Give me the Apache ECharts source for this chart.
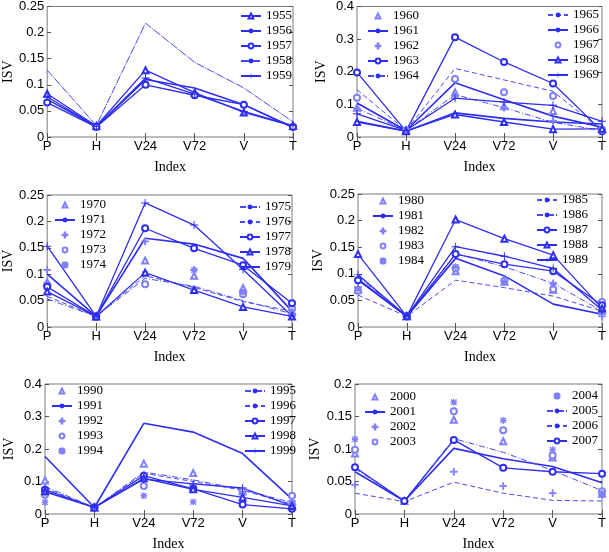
<!DOCTYPE html>
<html>
<head>
<meta charset="utf-8">
<script src="https://cdn.jsdelivr.net/npm/echarts@6/dist/echarts.min.js"></script>
<style>
html, body { margin: 0; padding: 0; background: #fff; }
#graphContainer { width: 609px; height: 552px; }
</style>
</head>
<body>
<div id="graphContainer"></div>
<script>
// x categories shared by all six panels
var categories = ['P', 'H', 'V24', 'V72', 'V', 'T'];

// panel 1: 1955-1959
var years1 = ['1955', '1956', '1957', '1958', '1959'];
var values1 = [
	[0.083, 0.021, 0.128, 0.085, 0.047, 0.021],
	[0.072, 0.020, 0.110, 0.094, 0.062, 0.018],
	[0.066, 0.019, 0.100, 0.080, 0.062, 0.019],
	[0.128, 0.022, 0.218, 0.143, 0.094, 0.029],
	[0.077, 0.020, 0.113, 0.082, 0.049, 0.022]
];
var kinds1 = ['triLine', 'solid', 'circLine', 'thin', 'plusLine'];

// panel 2: 1960-1969
var years2 = ['1960', '1961', '1962', '1963', '1964', '1965', '1966', '1967', '1968', '1969'];
var values2 = [
	[0.090, 0.020, 0.137, 0.094, 0.080, 0.025],
	[0.048, 0.018, 0.074, 0.057, 0.046, 0.040],
	[0.087, 0.020, 0.125, 0.090, 0.050, 0.022],
	[0.198, 0.018, 0.306, 0.230, 0.164, 0.018],
	[0.088, 0.020, 0.130, 0.090, 0.045, 0.020],
	[0.145, 0.020, 0.210, 0.175, 0.140, 0.020],
	[0.104, 0.020, 0.166, 0.114, 0.064, 0.030],
	[0.120, 0.020, 0.178, 0.137, 0.126, 0.022],
	[0.046, 0.018, 0.069, 0.046, 0.024, 0.025],
	[0.071, 0.020, 0.119, 0.107, 0.097, 0.048]
];
var kinds2 = ['tri', 'solid', 'plus', 'circLine', 'dashdot', 'dash', 'solid', 'circ', 'triLine', 'plusLine'];

// panel 3: 1970-1979
var years3 = ['1970', '1971', '1972', '1973', '1974', '1975', '1976', '1977', '1978', '1979'];
var values3 = [
	[0.085, 0.020, 0.126, 0.097, 0.074, 0.030],
	[0.100, 0.020, 0.168, 0.157, 0.130, 0.030],
	[0.108, 0.020, 0.162, 0.108, 0.065, 0.025],
	[0.080, 0.020, 0.081, 0.070, 0.062, 0.035],
	[0.078, 0.020, 0.100, 0.108, 0.066, 0.030],
	[0.053, 0.020, 0.092, 0.077, 0.050, 0.025],
	[0.058, 0.020, 0.097, 0.075, 0.048, 0.030],
	[0.076, 0.020, 0.187, 0.149, 0.117, 0.045],
	[0.067, 0.020, 0.103, 0.070, 0.038, 0.020],
	[0.153, 0.020, 0.235, 0.193, 0.109, 0.021]
];
var kinds3 = ['tri', 'solid', 'plus', 'circ', 'star', 'dashdot', 'dash', 'circLine', 'triLine', 'plusLine'];

// panel 4: 1980-1989
var years4 = ['1980', '1981', '1982', '1983', '1984', '1985', '1986', '1987', '1988', '1989'];
var values4 = [
	[0.070, 0.020, 0.105, 0.085, 0.070, 0.030],
	[0.090, 0.020, 0.129, 0.096, 0.043, 0.024],
	[0.075, 0.020, 0.112, 0.088, 0.082, 0.020],
	[0.068, 0.020, 0.110, 0.087, 0.071, 0.047],
	[0.072, 0.020, 0.113, 0.085, 0.080, 0.030],
	[0.060, 0.020, 0.088, 0.074, 0.058, 0.030],
	[0.095, 0.020, 0.138, 0.113, 0.082, 0.030],
	[0.088, 0.020, 0.137, 0.118, 0.105, 0.041],
	[0.137, 0.020, 0.202, 0.166, 0.135, 0.035],
	[0.098, 0.020, 0.151, 0.133, 0.110, 0.032]
];
var kinds4 = ['tri', 'solid', 'plus', 'circ', 'star', 'dash', 'dashdot', 'circLine', 'triLine', 'plusLine'];

// panel 5: 1990-1999
var years5 = ['1990', '1991', '1992', '1993', '1994', '1995', '1996', '1997', '1998', '1999'];
var values5 = [
	[0.103, 0.020, 0.155, 0.126, 0.070, 0.040],
	[0.177, 0.020, 0.279, 0.252, 0.186, 0.046],
	[0.080, 0.020, 0.120, 0.090, 0.070, 0.040],
	[0.059, 0.020, 0.086, 0.080, 0.070, 0.056],
	[0.036, 0.020, 0.056, 0.037, 0.065, 0.030],
	[0.085, 0.020, 0.129, 0.105, 0.075, 0.035],
	[0.080, 0.020, 0.125, 0.100, 0.073, 0.030],
	[0.075, 0.020, 0.118, 0.077, 0.029, 0.016],
	[0.070, 0.020, 0.110, 0.076, 0.051, 0.025],
	[0.068, 0.020, 0.107, 0.093, 0.080, 0.025]
];
var kinds5 = ['tri', 'solid', 'plus', 'circ', 'star', 'dashdot', 'dash', 'circLine', 'triLine', 'plusLine'];

// panel 6: 2000-2007
var years6 = ['2000', '2001', '2002', '2003', '2004', '2005', '2006', '2007'];
var values6 = [
	[0.093, 0.020, 0.145, 0.112, 0.087, 0.031],
	[0.065, 0.020, 0.101, 0.085, 0.073, 0.048],
	[0.045, 0.020, 0.065, 0.043, 0.032, 0.030],
	[0.099, 0.020, 0.158, 0.129, 0.090, 0.035],
	[0.115, 0.020, 0.172, 0.144, 0.099, 0.032],
	[0.070, 0.020, 0.116, 0.095, 0.067, 0.036],
	[0.032, 0.019, 0.049, 0.032, 0.021, 0.020],
	[0.072, 0.020, 0.114, 0.071, 0.065, 0.062]
];
var kinds6 = ['tri', 'solid', 'plus', 'circ', 'star', 'dashdot', 'dash', 'circLine'];

// y-axis ranges per panel
var yMax = [0.25, 0.4, 0.25, 0.25, 0.4, 0.2];
var yStep = [0.05, 0.1, 0.05, 0.05, 0.1, 0.05];

var lineBlue = '#2e2ef0';
var lightBlue = '#8080f8';
var serif = '"Liberation Serif", "DejaVu Serif", serif';
var sans = '"Liberation Sans", Arial, sans-serif';
var plusPath = 'path://M4.4,0H5.6V4.4H10V5.6H5.6V10H4.4V5.6H0V4.4H4.4Z';
var starPath = 'path://M4.5,0H5.5V4.5H10V5.5H5.5V10H4.5V5.5H0V4.5H4.5Z M1.2,0.5L9.5,8.8L8.8,9.5L0.5,1.2Z M8.8,0.5L9.5,1.2L1.2,9.5L0.5,8.8Z';

var panels = [
	{ years: years1, values: values1, kinds: kinds1, grid: [45, 5, 248, 132],
	  legends: [{ names: years1, left: 240, top: 8.5 }] },
	{ years: years2, values: values2, kinds: kinds2, grid: [357, 5, 248, 132],
	  legends: [{ names: years2.slice(0, 5), left: 367, top: 8.5 }, { names: years2.slice(5), left: 547, top: 7.5 }] },
	{ years: years3, values: values3, kinds: kinds3, grid: [45, 195, 247, 132],
	  legends: [{ names: years3.slice(0, 5), left: 54, top: 197.5 }, { names: years3.slice(5), left: 239, top: 199.5 }] },
	{ years: years4, values: values4, kinds: kinds4, grid: [358, 194, 247, 133],
	  legends: [{ names: years4.slice(0, 5), left: 372, top: 193.5 }, { names: years4.slice(5), left: 536, top: 192.5 }] },
	{ years: years5, values: values5, kinds: kinds5, grid: [45, 384, 247, 133],
	  legends: [{ names: years5.slice(0, 5), left: 51, top: 383.5 }, { names: years5.slice(5), left: 244, top: 383.5 }] },
	{ years: years6, values: values6, kinds: kinds6, grid: [355, 384, 250, 133],
	  legends: [{ names: years6.slice(0, 4), left: 364, top: 389.5 }, { names: years6.slice(4), left: 546, top: 388.5 }] }
];

function makeSeries(name, data, kind, gi) {
	var s = {
		name: name,
		data: data,
		xAxisIndex: gi * 2,
		yAxisIndex: gi * 2,
		type: 'line',
		symbol: 'none',
		symbolKeepAspect: true,
		silent: true,
		animation: false,
		itemStyle: { color: lineBlue, borderWidth: 1 },
		lineStyle: { color: lineBlue, width: 1.3 }
	};
	if (kind == 'triLine') {
		s.symbol = 'emptyTriangle';
		s.symbolSize = 6;
	} else if (kind == 'circLine') {
		s.symbol = 'emptyCircle';
		s.symbolSize = 6;
	} else if (kind == 'plusLine') {
		s.symbol = plusPath;
		s.symbolSize = 8;
	} else if (kind == 'solid') {
		s.lineStyle.width = 1.6;
	} else if (kind == 'thin') {
		s.lineStyle = { color: '#4646f2', width: 1, type: [8, 1, 1, 1] };
	} else if (kind == 'dash') {
		s.lineStyle = { color: '#4a4af2', width: 1, type: [5, 3] };
	} else if (kind == 'dashdot') {
		s.lineStyle = { color: '#4a4af2', width: 1, type: [6, 2, 1, 2] };
	} else {
		// markers only: a line series whose line is hidden
		s.itemStyle = { color: lightBlue, borderColor: lightBlue, borderWidth: 1 };
		s.lineStyle = { color: lightBlue, width: 1, opacity: 0 };
		if (kind == 'tri') { s.symbol = 'emptyTriangle'; s.symbolSize = 6; }
		if (kind == 'circ') { s.symbol = 'emptyCircle'; s.symbolSize = 6; }
		if (kind == 'plus') { s.symbol = plusPath; s.symbolSize = 7; }
		if (kind == 'star') { s.symbol = starPath; s.symbolSize = 6; }
	}
	return s;
}

var grids = [], xAxes = [], yAxes = [], legends = [], seriesData = [];

for (var gi = 0; gi < panels.length; gi++) {
	var p = panels[gi];
	grids.push({
		left: p.grid[0], top: p.grid[1], width: p.grid[2], height: p.grid[3],
		show: true, borderColor: '#7a7a7a', borderWidth: 1, backgroundColor: '#fff'
	});
	var tick = { show: true, inside: true, length: 4, lineStyle: { color: '#555' } };
	xAxes.push({
		gridIndex: gi, type: 'category', data: categories, boundaryGap: false,
		name: 'Index', nameLocation: 'middle', nameGap: 23,
		nameTextStyle: { fontFamily: serif, fontSize: 14, color: '#000' },
		axisLine: { show: false }, axisTick: tick, splitLine: { show: false },
		axisLabel: { fontFamily: sans, fontSize: 13, color: '#000', margin: 3, interval: 0 }
	});
	xAxes.push({
		gridIndex: gi, type: 'category', data: categories, boundaryGap: false, position: 'top',
		axisLine: { show: false }, axisTick: tick, axisLabel: { show: false }, splitLine: { show: false }
	});
	yAxes.push({
		gridIndex: gi, type: 'value', min: 0, max: yMax[gi], interval: yStep[gi],
		name: 'ISV', nameLocation: 'middle', nameGap: 29,
		nameTextStyle: { fontFamily: serif, fontSize: 14, color: '#000' },
		axisLine: { show: false }, axisTick: tick, splitLine: { show: false },
		axisLabel: { fontFamily: sans, fontSize: 13, color: '#000', margin: 3 }
	});
	yAxes.push({
		gridIndex: gi, type: 'value', min: 0, max: yMax[gi], interval: yStep[gi], position: 'right',
		axisLine: { show: false }, axisTick: tick, axisLabel: { show: false }, splitLine: { show: false }
	});
	for (var j = 0; j < p.years.length; j++) {
		seriesData.push(makeSeries(p.years[j], p.values[j], p.kinds[j], gi));
	}
	for (var k = 0; k < p.legends.length; k++) {
		var lg = p.legends[k];
		legends.push({
			data: lg.names, left: lg.left, top: lg.top, orient: 'vertical',
			itemWidth: 20, itemHeight: 6, itemGap: 0, padding: 0, selectedMode: false,
			textStyle: { fontFamily: serif, fontSize: 13, lineHeight: 15, color: '#000', padding: [0, 0, 0, 0] }
		});
	}
}

var dom = document.getElementById('graphContainer');
var myEChart = echarts.init(dom, null, { renderer: 'canvas' });
var option = {
	backgroundColor: '#fff',
	animation: false,
	grid: grids,
	xAxis: xAxes,
	yAxis: yAxes,
	legend: legends,
	series: seriesData
};
myEChart.setOption(option);
</script>
</body>
</html>
